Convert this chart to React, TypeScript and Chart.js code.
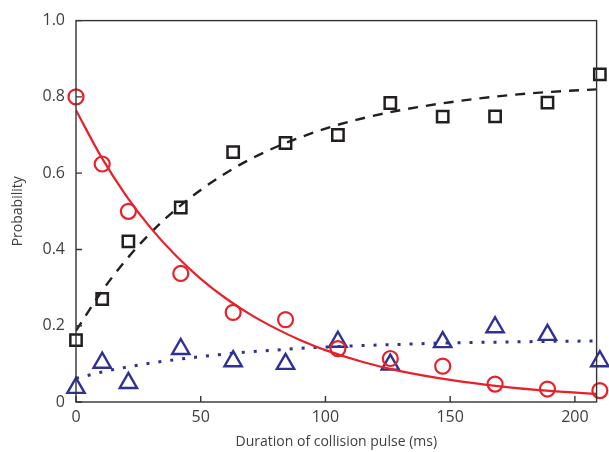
import React, { useEffect, useRef } from "react";
import { Chart, registerables } from "chart.js";

Chart.register(...registerables);

// Measured points (time in ms)
const pulseTimes = [0, 10.5, 21, 42, 63, 84, 105, 126, 147, 168, 189, 210];
const redValues = [0.8, 0.624, 0.5, 0.337, 0.235, 0.216, 0.14, 0.114, 0.094, 0.047, 0.034, 0.03];
const blackValues = [0.162, 0.27, 0.421, 0.51, 0.655, 0.679, 0.7, 0.784, 0.748, 0.749, 0.785, 0.859];
const blueValues = [0.037, 0.103, 0.05, 0.139, 0.107, 0.1, 0.158, 0.098, 0.157, 0.196, 0.176, 0.107];

// Fit curves
const fitTimes = [0, 10, 20, 30, 40, 50, 60, 70, 80, 90, 100, 115, 130, 150, 170, 190, 210];
const redFit = [0.765, 0.644, 0.542, 0.456, 0.384, 0.323, 0.272, 0.229, 0.193, 0.162, 0.136, 0.105, 0.081, 0.058, 0.041, 0.029, 0.021];
const blackFit = [0.187, 0.287, 0.372, 0.444, 0.505, 0.556, 0.6, 0.637, 0.668, 0.694, 0.717, 0.744, 0.765, 0.786, 0.802, 0.813, 0.82];
const blueFit = [0.062, 0.078, 0.091, 0.102, 0.111, 0.119, 0.126, 0.132, 0.136, 0.141, 0.144, 0.148, 0.151, 0.155, 0.157, 0.159, 0.16];

const xTicks = [0, 50, 100, 150, 200];
const yTicks = [0, 0.2, 0.4, 0.6, 0.8, 1.0];

const RED = "#e8202a";
const BLACK = "#231f20";
const BLUE = "#2e3192";
const TEXT = "#404040";
const AXIS = "#333333";

const pts = (xs: number[], ys: number[]) => xs.map((x, i) => ({ x, y: ys[i] }));

const frame = {
  id: "frame",
  afterDraw(chart: any) {
    const { ctx, chartArea, scales } = chart;
    ctx.save();
    ctx.strokeStyle = AXIS;
    ctx.lineWidth = 1.4;
    ctx.strokeRect(chartArea.left, chartArea.top, chartArea.right - chartArea.left, chartArea.bottom - chartArea.top);
    ctx.beginPath();
    for (const v of yTicks) {
      const y = scales.y.getPixelForValue(v);
      ctx.moveTo(chartArea.left, y);
      ctx.lineTo(chartArea.left + 6, y);
    }
    for (const v of xTicks) {
      const x = scales.x.getPixelForValue(v);
      ctx.moveTo(x, chartArea.bottom);
      ctx.lineTo(x, chartArea.bottom - 6);
    }
    ctx.stroke();
    ctx.restore();
  },
};

export default function App() {
  const ref = useRef<HTMLCanvasElement | null>(null);
  useEffect(() => {
    if (!ref.current) return;
    const font = { family: "'Open Sans', sans-serif", size: 16 };
    const chart = new Chart(ref.current, {
      type: "scatter",
      data: {
        datasets: [
          {
            type: "line",
            data: pts(fitTimes, redFit),
            borderColor: RED,
            borderWidth: 2.2,
            pointRadius: 0,
            cubicInterpolationMode: "monotone",
            fill: false,
          } as any,
          {
            type: "line",
            data: pts(fitTimes, blackFit),
            borderColor: BLACK,
            borderWidth: 2.4,
            borderDash: [10, 8],
            pointRadius: 0,
            cubicInterpolationMode: "monotone",
            fill: false,
          } as any,
          {
            type: "line",
            data: pts(fitTimes, blueFit),
            borderColor: BLUE,
            borderWidth: 3,
            borderDash: [3, 9],
            pointRadius: 0,
            cubicInterpolationMode: "monotone",
            fill: false,
          } as any,
          {
            data: pts(pulseTimes, redValues),
            pointStyle: "circle",
            pointRadius: 7.5,
            pointBorderWidth: 2.2,
            borderColor: RED,
            backgroundColor: "rgba(0,0,0,0)",
            clip: false,
          } as any,
          {
            data: pts(pulseTimes, blackValues),
            pointStyle: "rect",
            pointRadius: 8,
            pointBorderWidth: 2.5,
            borderColor: BLACK,
            backgroundColor: "rgba(0,0,0,0)",
            clip: false,
          } as any,
          {
            data: pts(pulseTimes, blueValues),
            pointStyle: "triangle",
            pointRadius: 10,
            pointBorderWidth: 2.4,
            borderColor: BLUE,
            backgroundColor: "rgba(0,0,0,0)",
            clip: false,
          } as any,
        ],
      },
      options: {
        animation: false,
        responsive: false,
        layout: { padding: { top: 17.5, right: 4, left: 0, bottom: 0 } },
        plugins: { legend: { display: false }, tooltip: { enabled: false } },
        scales: {
          x: {
            type: "linear",
            min: 0,
            max: 208.7,
            afterBuildTicks: (s: any) => {
              s.ticks = xTicks.map((v) => ({ value: v }));
            },
            afterFit: (s: any) => {
              s.height = 50;
            },
            grid: { display: false, drawTicks: false },
            border: { display: false },
            ticks: { color: TEXT, font, padding: 6, maxRotation: 0 },
            title: {
              display: true,
              text: "Duration of collision pulse (ms)",
              color: TEXT,
              font: { family: "'Open Sans', sans-serif", size: 14 },
              padding: { top: 0, bottom: 2 },
            },
          },
          y: {
            type: "linear",
            min: 0,
            max: 1,
            afterBuildTicks: (s: any) => {
              s.ticks = yTicks.map((v) => ({ value: v }));
            },
            afterFit: (s: any) => {
              s.width = 76;
            },
            grid: { display: false, drawTicks: false },
            border: { display: false },
            ticks: {
              color: TEXT,
              font,
              padding: 11,
              callback: (v: any) => (v === 0 ? "0" : Number(v).toFixed(1)),
            },
            title: {
              display: true,
              text: "Probability",
              color: TEXT,
              font: { family: "'Open Sans', sans-serif", size: 14 },
              padding: { top: 10, bottom: 0 },
            },
          },
        },
      },
      plugins: [frame],
    } as any);
    return () => chart.destroy();
  }, []);
  return (
    <div style={{ position: "fixed", left: 0, top: 0, width: 609, height: 452, background: "#fff" }}>
      <canvas ref={ref} width={609} height={452} />
    </div>
  );
}
